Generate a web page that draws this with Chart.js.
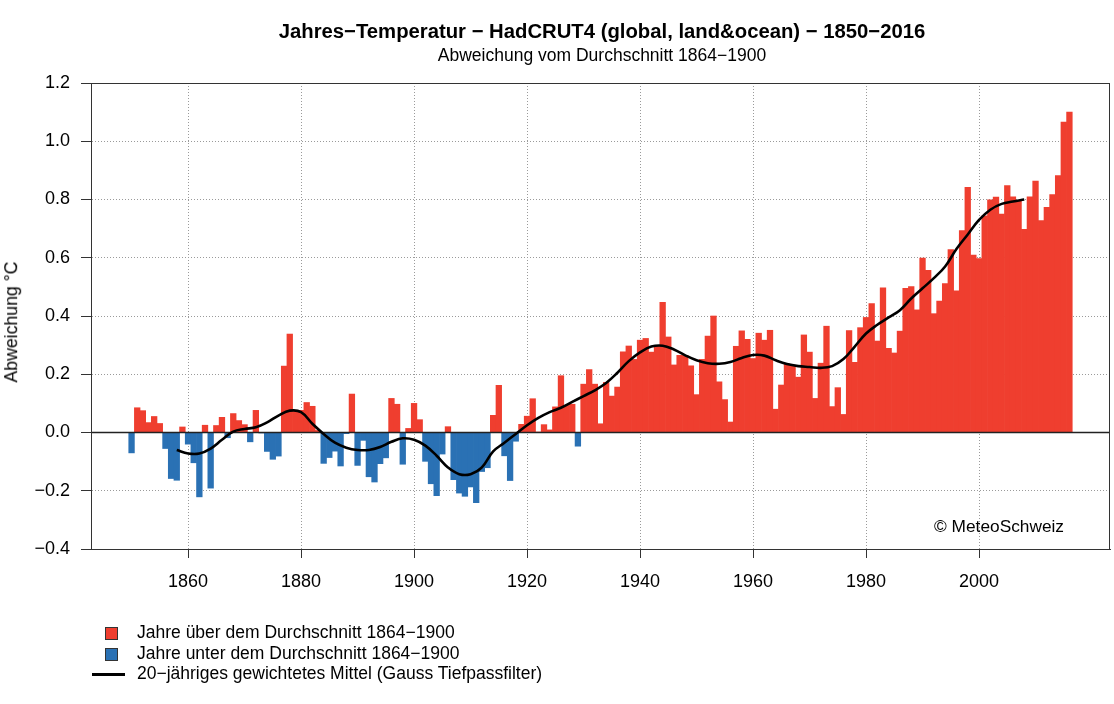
<!DOCTYPE html>
<html><head><meta charset="utf-8">
<script src="https://cdn.jsdelivr.net/npm/chart.js@4"></script>
<style>
html,body{margin:0;padding:0;background:#fff;}
#wrap{position:relative;width:1114px;height:704px;font-family:"Liberation Sans",Arial,Helvetica,sans-serif;color:#000;overflow:hidden;}
canvas{position:absolute;left:0;top:0;}
.t{position:absolute;white-space:nowrap;line-height:1;}
</style></head><body>
<div id="wrap">
<canvas id="c" width="1114" height="704"></canvas>
<div class="t" style="left:602px;top:21px;transform:translateX(-50%);font-weight:bold;font-size:20.3px;">Jahres−Temperatur − HadCRUT4 (global, land&amp;ocean) − 1850−2016</div>
<div class="t" style="left:602px;top:47px;transform:translateX(-50%);font-size:17.5px;">Abweichung vom Durchschnitt 1864−1900</div>
<div class="t" style="left:12px;top:322px;transform:translate(-50%,-50%) rotate(-90deg);font-size:17.7px;">Abweichung °C</div>
<div class="t" style="right:50px;top:518px;font-size:17.3px;">© MeteoSchweiz</div>
<div style="position:absolute;left:105px;top:627px;width:11px;height:11px;border:1px solid #333;background:#EF3E2F;"></div>
<div style="position:absolute;left:105px;top:648px;width:11px;height:11px;border:1px solid #333;background:#2A71B4;"></div>
<div style="position:absolute;left:92px;top:673px;width:33px;height:2.5px;background:#000;"></div>
<div class="t" style="left:137px;top:624px;font-size:17.5px;">Jahre über dem Durchschnitt 1864−1900</div>
<div class="t" style="left:137px;top:645px;font-size:17.5px;">Jahre unter dem Durchschnitt 1864−1900</div>
<div class="t" style="left:137px;top:665px;font-size:17.5px;">20−jähriges gewichtetes Mittel (Gauss Tiefpassfilter)</div>
</div>
<script>
// Years 1850..2016 (one bar per year)
const firstYear = 1850;
const anomalies = [
 -0.07, 0.085, 0.075, 0.034, 0.055, 0.031, -0.055, -0.158, -0.164, 0.019,
 -0.040, -0.104, -0.221, 0.025, -0.191, 0.024, 0.052, -0.018, 0.065, 0.041,
 0.027, -0.032, 0.076, -0.001, -0.065, -0.092, -0.081, 0.228, 0.338, 0.073,
 0.076, 0.103, 0.090, 0.007, -0.106, -0.086, -0.064, -0.115, -0.004, 0.132,
 -0.113, -0.027, -0.152, -0.170, -0.107, -0.087, 0.117, 0.097, -0.109, 0.014,
 0.100, 0.044, -0.099, -0.176, -0.217, -0.074, 0.020, -0.162, -0.208, -0.219,
 -0.187, -0.241, -0.134, -0.121, 0.059, 0.162, -0.080, -0.165, -0.030, 0.028,
 0.056, 0.116, 0.001, 0.027, 0.009, 0.088, 0.195, 0.093, 0.097, -0.047,
 0.166, 0.216, 0.166, 0.030, 0.172, 0.125, 0.156, 0.277, 0.297, 0.251,
 0.317, 0.323, 0.276, 0.299, 0.447, 0.328, 0.232, 0.265, 0.264, 0.229,
 0.130, 0.251, 0.331, 0.400, 0.174, 0.113, 0.036, 0.296, 0.349, 0.320,
 0.254, 0.341, 0.317, 0.351, 0.080, 0.163, 0.235, 0.229, 0.190, 0.335,
 0.276, 0.117, 0.238, 0.365, 0.089, 0.154, 0.062, 0.350, 0.241, 0.360,
 0.395, 0.443, 0.314, 0.497, 0.289, 0.273, 0.348, 0.495, 0.501, 0.421,
 0.599, 0.557, 0.408, 0.451, 0.511, 0.628, 0.486, 0.693, 0.842, 0.609,
 0.597, 0.744, 0.799, 0.808, 0.750, 0.848, 0.809, 0.794, 0.698, 0.809,
 0.863, 0.728, 0.773, 0.817, 0.882, 1.066, 1.100
];
const smoothYears = [1858,1860,1862,1864,1866,1868,1870,1872,1874,1876,1878,1880,1882,1884,1886,1888,1890,1892,1894,1896,1898,1900,1902,1904,1906,1908,1910,1912,1914,1916,1918,1920,1922,1924,1926,1928,1930,1932,1934,1936,1938,1940,1942,1944,1946,1948,1950,1952,1954,1956,1958,1960,1962,1964,1966,1968,1970,1972,1974,1976,1978,1980,1982,1984,1986,1988,1990,1992,1994,1996,1998,2000,2002,2004,2006,2008];
const smoothValues = [-0.06,-0.072,-0.072,-0.055,-0.025,0.003,0.012,0.018,0.035,0.058,0.075,0.07,0.03,-0.005,-0.035,-0.052,-0.06,-0.06,-0.05,-0.032,-0.02,-0.025,-0.045,-0.08,-0.12,-0.143,-0.143,-0.12,-0.065,-0.035,-0.005,0.025,0.05,0.07,0.085,0.105,0.125,0.145,0.17,0.205,0.245,0.275,0.295,0.298,0.285,0.265,0.248,0.238,0.236,0.242,0.256,0.266,0.264,0.248,0.235,0.228,0.225,0.222,0.228,0.252,0.295,0.34,0.37,0.395,0.42,0.46,0.495,0.53,0.57,0.63,0.68,0.73,0.765,0.785,0.793,0.80];
const xTicks = [1860,1880,1900,1920,1940,1960,1980,2000];
const yTicks = [-0.4,-0.2,0.0,0.2,0.4,0.6,0.8,1.0,1.2];

const RED = '#EF3E2F', BLUE = '#2A71B4';
const barData = anomalies.map((v,i)=>({x:firstYear+i, y:v}));
const lineData = smoothYears.map((y,i)=>({x:y, y:smoothValues[i]}));

const deco = {
  id:'deco',
  afterDatasetDraw(chart,args){
    if(args.index!==1) return;
    const ctx=chart.ctx, a=chart.chartArea, y0=chart.scales.y.getPixelForValue(0);
    ctx.save(); ctx.strokeStyle='#222'; ctx.lineWidth=1.6;
    ctx.beginPath(); ctx.moveTo(a.left,y0); ctx.lineTo(a.right,y0); ctx.stroke(); ctx.restore();
  },
  afterDraw(chart){
    const ctx=chart.ctx, a=chart.chartArea;
    ctx.save(); ctx.strokeStyle='#333'; ctx.lineWidth=1;
    ctx.strokeRect(Math.round(a.left)+0.5, Math.round(a.top)+0.5, Math.round(a.right-a.left)-1, Math.round(a.bottom-a.top));
    ctx.restore();
  }
};

new Chart(document.getElementById('c'), {
  data:{datasets:[
    {type:'line', data:lineData, borderColor:'#000', borderWidth:2.6, pointRadius:0, tension:0.4, fill:false, order:0},
    {type:'bar', data:barData, backgroundColor:barData.map(d=>d.y>=0?RED:BLUE), borderWidth:0, barPercentage:1.0, categoryPercentage:1.0, order:1}
  ]},
  options:{
    responsive:false, animation:false, devicePixelRatio:1,
    layout:{padding:{left:0,right:4,top:83,bottom:0}},
    plugins:{legend:{display:false}, tooltip:{enabled:false}},
    scales:{
      x:{type:'linear', min:1842.82, max:2023.18, offset:false,
        afterBuildTicks:s=>{s.ticks=xTicks.map(v=>({value:v}));},
        afterFit:s=>{s.height=155;},
        grid:{offset:false, color:'#9a9a9a', lineWidth:1, tickLength:9, tickColor:'#333', drawTicks:true},
        border:{display:true, color:'#333', width:1, dash:[1,2]},
        ticks:{font:{family:'"Liberation Sans", Arial, sans-serif', size:18}, color:'#000', padding:13, maxRotation:0, autoSkip:false, callback:v=>String(v)}
      },
      y:{type:'linear', min:-0.4, max:1.2,
        afterBuildTicks:s=>{s.ticks=yTicks.map(v=>({value:v}));},
        afterFit:s=>{s.width=91;},
        grid:{color:'#9a9a9a', lineWidth:1, tickLength:10, tickColor:'#333', drawTicks:true},
        border:{display:true, color:'#333', width:1, dash:[1,2]},
        ticks:{font:{family:'"Liberation Sans", Arial, sans-serif', size:18}, color:'#000', padding:11, autoSkip:false,
          callback:v=>{const s=Math.abs(v).toFixed(1); return v<-1e-9?'\u2212'+s:s;}}
      }
    }
  },
  plugins:[deco]
});
</script>
</body></html>
